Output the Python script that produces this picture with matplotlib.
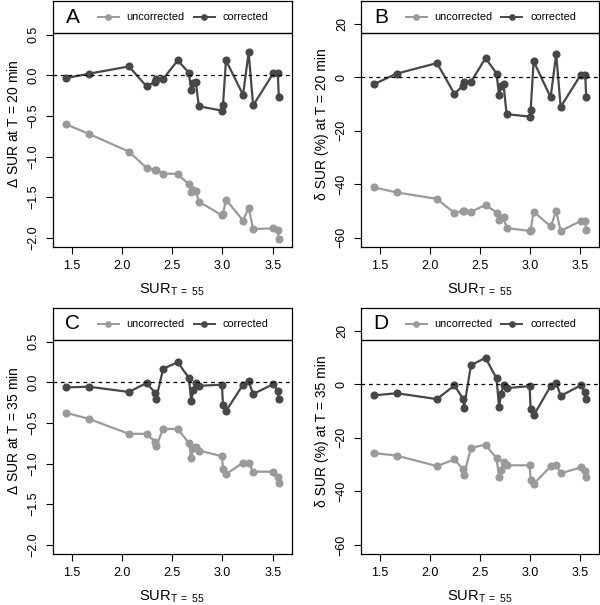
import numpy as np
import matplotlib
matplotlib.use("Agg")
import matplotlib.pyplot as plt

plt.rcParams["font.family"] = ["Liberation Sans", "DejaVu Sans"]
plt.rcParams["mathtext.fontset"] = "custom"
plt.rcParams["mathtext.rm"] = "Liberation Sans"
plt.rcParams["mathtext.it"] = "Liberation Sans:italic"

# SUR at T = 55 for each subject (shared by all panels)
sur55 = [1.44, 1.67, 2.07, 2.245, 2.33, 2.34, 2.41, 2.555, 2.665, 2.69, 2.71,
         2.735, 2.765, 2.995, 3.005, 3.035, 3.205, 3.26, 3.305, 3.505, 3.55, 3.56]

# A: delta SUR at T = 20 min
a_uncorr = [-0.60, -0.72, -0.94, -1.14, -1.165, -1.165, -1.21, -1.215, -1.345, -1.44, -1.41,
            -1.425, -1.555, -1.725, -1.71, -1.53, -1.79, -1.63, -1.895, -1.885, -1.91, -2.02]
a_corr = [-0.035, 0.02, 0.11, -0.135, -0.08, -0.04, -0.045, 0.185, 0.035, -0.185, -0.09,
          -0.08, -0.38, -0.435, -0.37, 0.185, -0.24, 0.285, -0.37, 0.025, 0.035, -0.265]

# B: delta SUR (%) at T = 20 min
b_uncorr = [-41.2, -43.1, -45.5, -50.8, -50.1, -49.9, -50.3, -47.8, -50.6, -53.5, -52.5,
            -52.3, -56.4, -57.5, -57.0, -50.3, -55.8, -50.1, -57.5, -53.8, -53.8, -57.0]
b_corr = [-2.6, 1.4, 5.3, -6.2, -3.1, -1.6, -1.7, 7.2, 1.4, -6.8, -3.4,
          -2.6, -13.8, -14.7, -12.4, 6.0, -7.5, 8.7, -11.1, 0.9, 1.0, -7.5]

# C: delta SUR at T = 35 min
c_uncorr = [-0.375, -0.45, -0.635, -0.635, -0.73, -0.79, -0.575, -0.575, -0.745, -0.93, -0.815,
            -0.80, -0.84, -0.91, -1.07, -1.13, -0.99, -0.99, -1.10, -1.10, -1.165, -1.235]
c_corr = [-0.065, -0.055, -0.12, -0.01, -0.13, -0.21, 0.165, 0.245, 0.055, -0.23, -0.10,
          -0.01, -0.045, -0.03, -0.28, -0.355, -0.03, 0.01, -0.145, -0.025, -0.11, -0.205]

# D: delta SUR (%) at T = 35 min
d_uncorr = [-25.7, -26.7, -30.6, -28.1, -31.8, -33.8, -23.8, -22.6, -27.7, -34.5, -32.0,
            -29.1, -30.3, -30.3, -35.7, -37.3, -30.7, -30.1, -33.3, -31.1, -32.6, -34.6]
d_corr = [-4.2, -3.4, -5.6, -0.5, -5.5, -8.8, 7.1, 9.8, 2.1, -8.6, -3.7,
          -0.25, -1.5, -0.75, -9.2, -11.7, -0.75, 0.6, -4.4, -0.5, -3.0, -5.7]

light = "#9a9a9a"
dark = "#474747"

fig = plt.figure(figsize=(6, 6.05), dpi=100)

panels = [
    ("A", a_uncorr, a_corr, r"$\Delta$ SUR at T = 20 min", False, [0.0878, 0.5922, 0.3983, 0.4055]),
    ("B", b_uncorr, b_corr, r"δ SUR (%) at T = 20 min", True, [0.6017, 0.5922, 0.3967, 0.4055]),
    ("C", c_uncorr, c_corr, r"$\Delta$ SUR at T = 35 min", False, [0.0878, 0.0843, 0.3983, 0.4066]),
    ("D", d_uncorr, d_corr, r"δ SUR (%) at T = 35 min", True, [0.6017, 0.0843, 0.3967, 0.4066]),
]

for letter, unc, cor, ylab, pct, pos in panels:
    ax = fig.add_axes(pos)

    ax.plot(sur55, unc, color=light, marker="o", ms=4.8, lw=1.6)
    ax.plot(sur55, cor, color=dark, marker="o", ms=4.8, lw=1.6)
    ax.axhline(0, color="black", ls=(0, (3, 3)), lw=0.9)

    if pct:
        lo, hi = -60, 25
        ax.set_yticks([-60, -40, -20, 0, 20])
        ax.set_yticklabels(["\u221260", "\u221240", "\u221220", "0", "20"])
    else:
        lo, hi = -2.0, 0.8
        ax.set_yticks([-2.0, -1.5, -1.0, -0.5, 0.0, 0.5])
        ax.set_yticklabels(["\u22122.0", "\u22121.5", "\u22121.0", "\u22120.5", "0.0", "0.5"])
    pad = (hi - lo) * 0.04
    ax.set_ylim(lo - pad, hi + pad)
    ax.set_xlim(1.312, 3.688)
    ax.set_xticks([1.5, 2.0, 2.5, 3.0, 3.5])
    ax.set_xticklabels(["1.5", "2.0", "2.5", "3.0", "3.5"])

    # header strip with panel letter and legend
    hy = lo - pad + (hi - lo + 2 * pad) * 0.87
    ax.axhspan(hy, hi + pad, color="white", zorder=3)
    ax.axhline(hy, color="black", lw=1, zorder=4)
    ax.text(0.085, 0.935, letter, transform=ax.transAxes, fontsize=15,
            ha="center", va="center", zorder=5)
    for x0, col, name in [(0.188, light, "uncorrected"), (0.59, dark, "corrected")]:
        ax.plot([x0, x0 + 0.088], [0.935, 0.935], color=col, lw=1.4,
                transform=ax.transAxes, zorder=5, clip_on=False)
        ax.plot([x0 + 0.044], [0.935], color=col, marker="o", ms=3.8,
                transform=ax.transAxes, zorder=5, clip_on=False)
        ax.text(x0 + 0.12, 0.935, name, transform=ax.transAxes, fontsize=7.8,
                ha="left", va="center", zorder=5)

    ax.tick_params(axis="both", length=5, width=0.8, labelsize=9, pad=4.5)
    for lab in ax.get_yticklabels():
        lab.set_rotation(90)
        lab.set_va("center")
    for s in ax.spines.values():
        s.set_linewidth(0.9)
        s.set_zorder(6)

    ax.set_ylabel(ylab, fontsize=10, labelpad=5)
    ax.set_xlabel(r"SUR$_{\mathrm{T\ =\ 55}}$", fontsize=10.5, labelpad=7)

fig.savefig("out.png", dpi=100)
